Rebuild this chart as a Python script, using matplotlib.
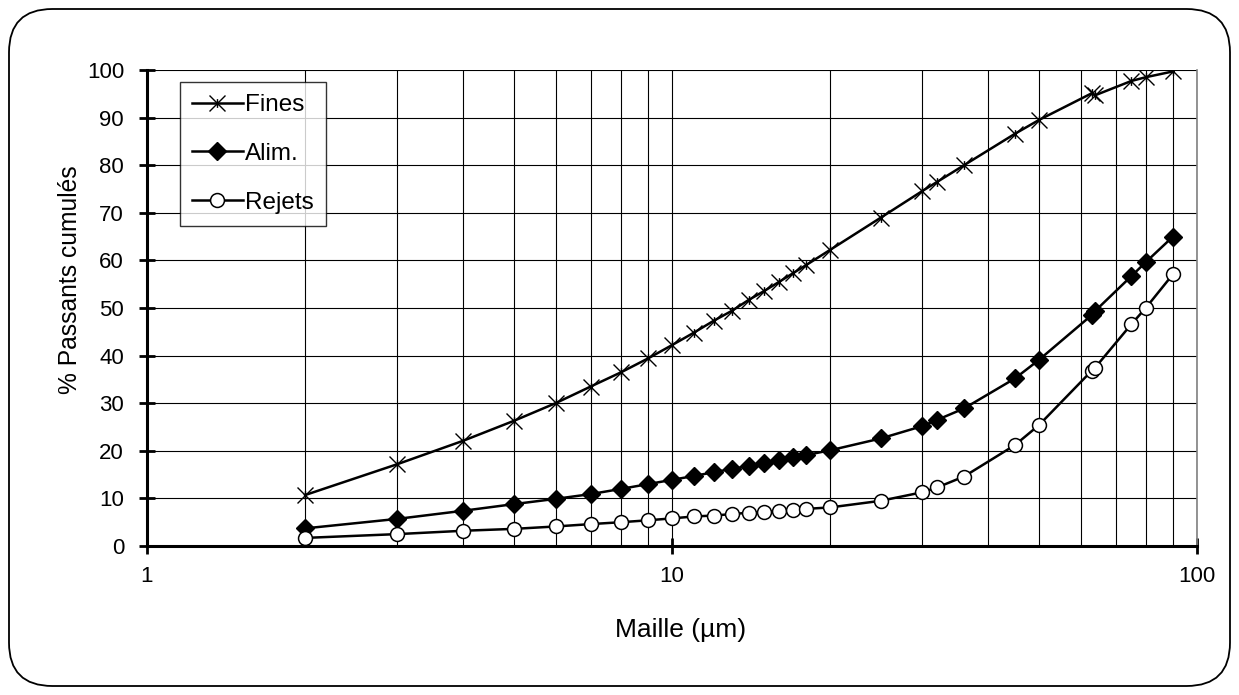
import numpy as np
import matplotlib.pyplot as plt
from matplotlib.patches import FancyBboxPatch
from matplotlib.path import Path
from matplotlib.ticker import LogLocator, NullFormatter, FixedLocator

plt.rcParams['font.family'] = ['Liberation Sans', 'DejaVu Sans']

maille = [2, 3, 4, 5, 6, 7, 8, 9, 10, 11, 12, 13, 14, 15, 16, 17, 18, 20,
          25, 30, 32, 36, 45, 50, 63, 64, 75, 80, 90]

fines = [10.7, 17.2, 22.1, 26.3, 30.0, 33.5, 36.5, 39.4, 42.2, 44.8, 47.3,
         49.4, 51.7, 53.6, 55.5, 57.3, 59.0, 62.2, 69.0, 74.6, 76.5, 80.0,
         86.6, 89.5, 95.1, 94.7, 97.7, 98.5, 99.7]

alim = [3.7, 5.7, 7.4, 8.8, 9.9, 10.9, 12.0, 13.0, 13.9, 14.7, 15.5, 16.2,
        16.8, 17.4, 18.1, 18.6, 19.1, 20.1, 22.6, 25.2, 26.5, 28.9, 35.2,
        39.1, 48.5, 49.4, 56.7, 59.7, 65.0]

rejets = [1.7, 2.5, 3.2, 3.6, 4.1, 4.6, 5.0, 5.4, 5.8, 6.2, 6.4, 6.7, 7.0,
          7.1, 7.4, 7.6, 7.8, 8.1, 9.5, 11.3, 12.3, 14.6, 21.2, 25.4, 36.8,
          37.5, 46.6, 50.1, 57.1]

# marqueur etoile : X + petit trait vertical
star = Path([(-1, -1), (1, 1), (-1, 1), (1, -1), (0, -0.55), (0, 0.55)],
            [Path.MOVETO, Path.LINETO, Path.MOVETO, Path.LINETO,
             Path.MOVETO, Path.LINETO])

fig = plt.figure(figsize=(12.39, 6.95), dpi=100)
fig.patches.append(FancyBboxPatch((9 / 1239, 9 / 695), 1221 / 1239, 677 / 695,
                                  boxstyle="round,pad=0,rounding_size=0.035",
                                  transform=fig.transFigure, fill=False,
                                  edgecolor='black', linewidth=1.3,
                                  mutation_aspect=1239 / 695))
ax = fig.add_axes([147 / 1239, (695 - 546) / 695, 1050 / 1239, 476 / 695])

ax.plot(maille, fines, color='black', lw=1.8, marker=star, ms=11.5,
        mew=1.0, mec='black', label='Fines', zorder=3)
ax.plot(maille, alim, color='black', lw=1.8, marker='D', ms=9.5,
        mfc='black', mec='black', label='Alim.', zorder=3)
ax.plot(maille, rejets, color='black', lw=1.8, marker='o', ms=10,
        mfc='white', mec='black', mew=1.1, label='Rejets', zorder=3)

ax.set_xscale('log')
ax.set_xlim(1, 100)
ax.set_ylim(0, 100)
ax.set_yticks(np.arange(0, 101, 10))
ax.xaxis.set_major_locator(FixedLocator([1, 10, 100]))
ax.xaxis.set_minor_locator(LogLocator(base=10, subs=np.arange(2, 10)))
ax.xaxis.set_minor_formatter(NullFormatter())
ax.set_xticklabels(['1', '10', '100'])

ax.grid(True, which='both', axis='x', color='black', lw=0.8, zorder=1)
ax.grid(True, which='major', axis='y', color='black', lw=0.8, zorder=1)
ax.set_axisbelow(True)

ax.spines['top'].set_visible(False)
ax.spines['right'].set_color('#808080')
ax.spines['right'].set_linewidth(1.2)
ax.spines['left'].set_linewidth(2.2)
ax.spines['bottom'].set_linewidth(2.2)
ax.tick_params(which='major', direction='inout', length=11, width=2,
               labelsize=16)
ax.tick_params(axis='y', pad=11)
ax.tick_params(axis='x', which='major', pad=9)
ax.tick_params(which='minor', length=0)
ax.tick_params(axis='y', right=False)

ax.set_xlabel('Maille (µm)', fontsize=19)
ax.set_ylabel('% Passants cumulés', fontsize=17.7)
ax.xaxis.set_label_coords(0.508, -0.151)
ax.yaxis.set_label_coords(-0.062, 0.559)

leg = ax.legend(loc='upper left', bbox_to_anchor=(0.031, 0.975), fontsize=17.5,
                frameon=True, fancybox=False, edgecolor='black',
                handlelength=2.1, labelspacing=1.1, borderpad=0.5,
                handletextpad=0.1, borderaxespad=0)
leg.get_frame().set_linewidth(1.0)

fig.savefig('out.png', dpi=100)
